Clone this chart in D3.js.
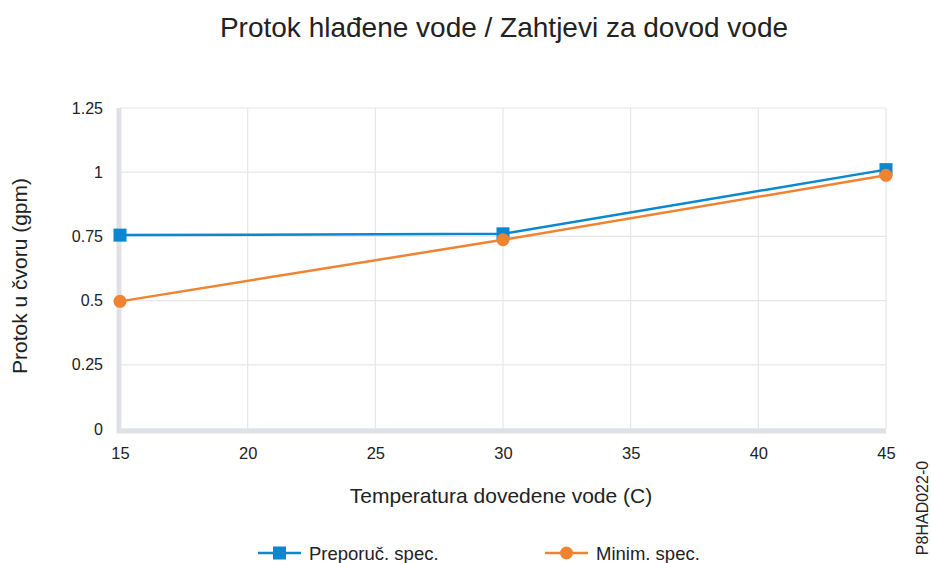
<!DOCTYPE html>
<html>
<head>
<meta charset="utf-8">
<script src="https://cdn.jsdelivr.net/npm/d3@7"></script>
<style>
	body { margin: 0; background: #fff; }
	text { font-family: "Liberation Sans", Arial, sans-serif; fill: #222; }
</style>
</head>
<body>
<svg id="chart" width="931" height="563"></svg>
<script>
// data
const temps = [15, 30, 45];
const preporuc = [0.755, 0.76, 1.01];
const minim = [0.497, 0.737, 0.988];
const xTicks = [15, 20, 25, 30, 35, 40, 45];
const yTicks = [0, 0.25, 0.5, 0.75, 1, 1.25];
const yTickLabels = ["0", "0.25", "0.5", "0.75", "1", "1.25"];

const blue = "#0a87cf";
const orange = "#f08331";

const svg = d3.select("#chart");

const x = d3.scaleLinear().domain([15, 45]).range([120, 886]);
const y = d3.scaleLinear().domain([0, 1.25]).range([429, 108]);

// grid
svg.append("g")
	.selectAll("line")
	.data(yTicks)
	.enter()
	.append("line")
	.attr("x1", x(15))
	.attr("x2", x(45))
	.attr("y1", d => y(d))
	.attr("y2", d => y(d))
	.attr("stroke", "#e6e7ec")
	.attr("stroke-width", 1.2);

svg.append("g")
	.selectAll("line")
	.data(xTicks)
	.enter()
	.append("line")
	.attr("x1", d => x(d))
	.attr("x2", d => x(d))
	.attr("y1", y(0))
	.attr("y2", y(1.25))
	.attr("stroke", "#e6e7ec")
	.attr("stroke-width", 1.2);

// thick axis lines
svg.append("line")
	.attr("x1", x(15) - 1).attr("x2", x(15) - 1)
	.attr("y1", y(1.25)).attr("y2", y(0) + 4)
	.attr("stroke", "#dfe1e6").attr("stroke-width", 5);
svg.append("line")
	.attr("x1", x(15) - 3).attr("x2", x(45))
	.attr("y1", y(0) + 2).attr("y2", y(0) + 2)
	.attr("stroke", "#dfe1e6").attr("stroke-width", 5);

// axes (labels only)
const xAxis = svg.append("g")
	.attr("transform", "translate(0," + (y(0) + 4) + ")")
	.call(d3.axisBottom(x).tickValues(xTicks).tickSize(0).tickPadding(14).tickFormat(d3.format("d")));
xAxis.select(".domain").remove();
xAxis.selectAll("text").style("font-size", "16.5px").style("fill", "#222");

const yAxis = svg.append("g")
	.attr("transform", "translate(" + (x(15) - 17) + ",0)")
	.call(d3.axisLeft(y).tickValues(yTicks).tickSize(0).tickPadding(0).tickFormat((d, i) => yTickLabels[i]));
yAxis.select(".domain").remove();
yAxis.selectAll("text").style("font-size", "16px").style("fill", "#222");

// lines
function drawSeries(vals, color, shape) {
	const pts = temps.map((t, i) => [t, vals[i]]);
	svg.append("path")
		.datum(pts)
		.attr("fill", "none")
		.attr("stroke", color)
		.attr("stroke-width", 2.5)
		.attr("d", d3.line().x(d => x(d[0])).y(d => y(d[1])));
	if (shape === "square") {
		svg.append("g").selectAll("rect")
			.data(pts).enter().append("rect")
			.attr("x", d => x(d[0]) - 6.5)
			.attr("y", d => y(d[1]) - 6.5)
			.attr("width", 13).attr("height", 13)
			.attr("fill", color);
	} else {
		svg.append("g").selectAll("circle")
			.data(pts).enter().append("circle")
			.attr("cx", d => x(d[0]))
			.attr("cy", d => y(d[1]))
			.attr("r", 6.5)
			.attr("fill", color);
	}
}
drawSeries(preporuc, blue, "square");
drawSeries(minim, orange, "circle");

// titles
svg.append("text")
	.attr("x", 504).attr("y", 37)
	.attr("text-anchor", "middle")
	.style("font-size", "28px")
	.text("Protok hlađene vode / Zahtjevi za dovod vode");

svg.append("text")
	.attr("x", 501).attr("y", 503)
	.attr("text-anchor", "middle")
	.style("font-size", "21px")
	.text("Temperatura dovedene vode (C)");

svg.append("text")
	.attr("transform", "rotate(-90)")
	.attr("x", -276).attr("y", 27)
	.attr("text-anchor", "middle")
	.style("font-size", "21px")
	.text("Protok u čvoru (gpm)");

// legend
const legend = [
	{ name: "Preporuč. spec.", color: blue, shape: "square", x: 258 },
	{ name: "Minim. spec.", color: orange, shape: "circle", x: 545 }
];
legend.forEach(l => {
	const g = svg.append("g").attr("transform", "translate(" + l.x + ",553)");
	g.append("line").attr("x1", 0).attr("x2", 43).attr("stroke", l.color).attr("stroke-width", 2.5);
	if (l.shape === "square") {
		g.append("rect").attr("x", 15).attr("y", -6.5).attr("width", 13).attr("height", 13).attr("fill", l.color);
	} else {
		g.append("circle").attr("cx", 21.5).attr("r", 6.5).attr("fill", l.color);
	}
	g.append("text").attr("x", 51).attr("y", 6.5).style("font-size", "18.5px").text(l.name);
});

// figure id
svg.append("text")
	.attr("transform", "rotate(-90)")
	.attr("x", -508).attr("y", 928)
	.attr("text-anchor", "middle")
	.style("font-size", "16px")
	.text("P8HAD022-0");
</script>
</body>
</html>
